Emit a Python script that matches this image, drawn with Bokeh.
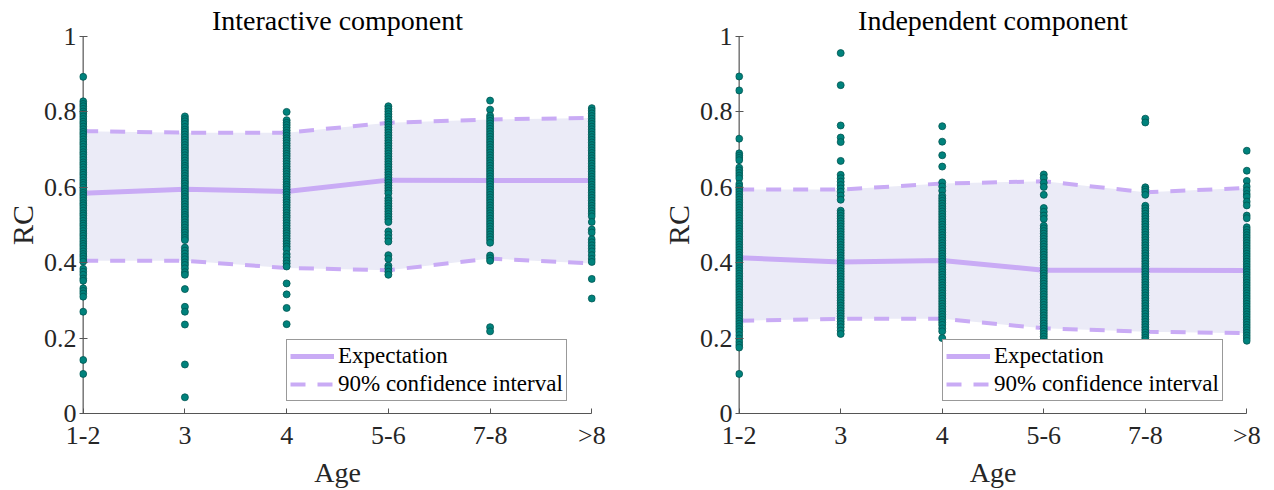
from bokeh.plotting import figure
from bokeh.layouts import row
from bokeh.models import Range1d, FixedTicker, Legend, LegendItem, Span
from bokeh.embed import file_html
from bokeh.resources import INLINE

ages = ["1-2", "3", "4", "5-6", "7-8", ">8"]
y_ticks = [0, 0.2, 0.4, 0.6, 0.8, 1.0]
y_tick_labels = ["0", "0.2", "0.4", "0.6", "0.8", "1"]

# ---- Interactive component ----
int_expect = [0.584, 0.595, 0.589, 0.619, 0.618, 0.618]
int_upper = [0.749, 0.745, 0.745, 0.771, 0.780, 0.784]
int_lower = [0.405, 0.405, 0.386, 0.380, 0.411, 0.398]

int_pts_12 = [0.893, 0.828, 0.821, 0.815, 0.808, 0.801, 0.795, 0.788, 0.781, 0.774, 0.768, 0.761, 0.754,
              0.747, 0.741, 0.734, 0.727, 0.720, 0.714, 0.707, 0.700, 0.693, 0.687, 0.680, 0.673, 0.666,
              0.660, 0.653, 0.646, 0.639, 0.633, 0.626, 0.619, 0.612, 0.606, 0.599, 0.592, 0.585, 0.579,
              0.572, 0.565, 0.558, 0.552, 0.545, 0.538, 0.531, 0.525, 0.518, 0.511, 0.504, 0.498, 0.491,
              0.484, 0.477, 0.471, 0.464, 0.457, 0.450, 0.444, 0.437, 0.430, 0.423, 0.417, 0.410, 0.403,
              0.384, 0.376, 0.368, 0.358, 0.352, 0.332, 0.325, 0.318, 0.310, 0.270, 0.142, 0.105]
int_pts_3 = [0.788, 0.781, 0.775, 0.768, 0.760, 0.753, 0.747, 0.740, 0.733, 0.726, 0.719, 0.712, 0.705,
             0.698, 0.692, 0.685, 0.678, 0.671, 0.664, 0.657, 0.651, 0.644, 0.637, 0.630, 0.623, 0.616,
             0.610, 0.603, 0.596, 0.589, 0.582, 0.575, 0.569, 0.562, 0.555, 0.548, 0.541, 0.534, 0.527,
             0.521, 0.514, 0.507, 0.500, 0.493, 0.486, 0.480, 0.473, 0.466, 0.460, 0.440, 0.432, 0.424,
             0.416, 0.409, 0.401, 0.394, 0.385, 0.375, 0.368, 0.330, 0.283, 0.270, 0.236, 0.130, 0.043]
int_pts_4 = [0.800, 0.778, 0.771, 0.765, 0.758, 0.751, 0.744, 0.737, 0.730, 0.724, 0.717, 0.710, 0.703,
             0.696, 0.689, 0.683, 0.676, 0.669, 0.662, 0.655, 0.648, 0.642, 0.635, 0.628, 0.621, 0.614,
             0.607, 0.601, 0.594, 0.587, 0.580, 0.573, 0.566, 0.560, 0.553, 0.546, 0.539, 0.532, 0.525,
             0.519, 0.512, 0.505, 0.498, 0.491, 0.484, 0.478, 0.471, 0.464, 0.457, 0.450, 0.443, 0.436,
             0.423, 0.415, 0.405, 0.398, 0.390, 0.345, 0.316, 0.280, 0.237]
int_pts_56 = [0.815, 0.808, 0.801, 0.794, 0.787, 0.780, 0.773, 0.766, 0.759, 0.752, 0.745, 0.738, 0.731,
              0.724, 0.717, 0.710, 0.703, 0.696, 0.689, 0.682, 0.675, 0.668, 0.661, 0.654, 0.647, 0.640,
              0.633, 0.626, 0.619, 0.612, 0.605, 0.598, 0.591, 0.584, 0.571, 0.564, 0.557, 0.550, 0.543,
              0.536, 0.529, 0.522, 0.515, 0.508, 0.483, 0.474, 0.465, 0.456, 0.420, 0.410, 0.392, 0.385,
              0.376, 0.368]
int_pts_78 = [0.830, 0.806, 0.790, 0.783, 0.776, 0.769, 0.762, 0.755, 0.748, 0.741, 0.734, 0.727, 0.720,
              0.713, 0.706, 0.699, 0.692, 0.685, 0.678, 0.671, 0.664, 0.657, 0.650, 0.643, 0.636, 0.629,
              0.622, 0.615, 0.608, 0.601, 0.594, 0.587, 0.580, 0.573, 0.566, 0.559, 0.552, 0.545, 0.538,
              0.531, 0.524, 0.517, 0.510, 0.503, 0.496, 0.489, 0.482, 0.475, 0.468, 0.461, 0.453, 0.419,
              0.412, 0.405, 0.229, 0.218]
int_pts_8p = [0.810, 0.803, 0.796, 0.789, 0.782, 0.775, 0.768, 0.761, 0.754, 0.747, 0.740, 0.733, 0.726,
              0.719, 0.712, 0.705, 0.698, 0.691, 0.684, 0.677, 0.670, 0.663, 0.656, 0.649, 0.642, 0.635,
              0.628, 0.621, 0.614, 0.607, 0.600, 0.593, 0.586, 0.579, 0.572, 0.565, 0.558, 0.551, 0.544,
              0.537, 0.530, 0.523, 0.508, 0.488, 0.480, 0.462, 0.454, 0.446, 0.438, 0.430, 0.420, 0.410,
              0.402, 0.357, 0.305]

# ---- Independent component ----
ind_expect = [0.413, 0.402, 0.406, 0.380, 0.380, 0.379]
ind_upper = [0.594, 0.594, 0.610, 0.616, 0.587, 0.598]
ind_lower = [0.246, 0.251, 0.251, 0.226, 0.217, 0.213]

ind_pts_12 = [0.894, 0.857, 0.729, 0.690, 0.684, 0.678, 0.672, 0.652, 0.645, 0.638, 0.631, 0.624, 0.609,
              0.602, 0.595, 0.588, 0.581, 0.574, 0.567, 0.560, 0.553, 0.546, 0.539, 0.532, 0.525, 0.518,
              0.511, 0.504, 0.497, 0.490, 0.483, 0.476, 0.469, 0.462, 0.455, 0.448, 0.441, 0.434, 0.427,
              0.420, 0.413, 0.406, 0.399, 0.392, 0.385, 0.378, 0.371, 0.364, 0.357, 0.350, 0.343, 0.336,
              0.329, 0.322, 0.315, 0.308, 0.301, 0.294, 0.287, 0.280, 0.273, 0.266, 0.259, 0.252, 0.245,
              0.238, 0.231, 0.224, 0.217, 0.208, 0.199, 0.190, 0.182, 0.175, 0.105]
ind_pts_3 = [0.956, 0.871, 0.764, 0.732, 0.720, 0.670, 0.633, 0.624, 0.615, 0.606, 0.597, 0.588, 0.578,
             0.567, 0.538, 0.531, 0.524, 0.517, 0.510, 0.503, 0.496, 0.489, 0.482, 0.475, 0.468, 0.461,
             0.454, 0.447, 0.440, 0.433, 0.426, 0.419, 0.412, 0.405, 0.398, 0.391, 0.384, 0.377, 0.370,
             0.363, 0.356, 0.349, 0.342, 0.335, 0.328, 0.321, 0.314, 0.307, 0.300, 0.293, 0.286, 0.279,
             0.272, 0.265, 0.258, 0.251, 0.244, 0.237, 0.229, 0.220, 0.211]
ind_pts_4 = [0.762, 0.721, 0.685, 0.655, 0.613, 0.602, 0.591, 0.578, 0.571, 0.564, 0.557, 0.550, 0.543,
             0.536, 0.529, 0.522, 0.515, 0.508, 0.501, 0.494, 0.487, 0.480, 0.473, 0.466, 0.459, 0.452,
             0.445, 0.438, 0.431, 0.424, 0.417, 0.410, 0.403, 0.396, 0.389, 0.382, 0.375, 0.368, 0.361,
             0.354, 0.347, 0.340, 0.333, 0.326, 0.319, 0.312, 0.305, 0.298, 0.291, 0.284, 0.277, 0.270,
             0.263, 0.256, 0.249, 0.242, 0.235, 0.226, 0.218, 0.200]
ind_pts_56 = [0.634, 0.625, 0.612, 0.601, 0.580, 0.545, 0.535, 0.525, 0.516, 0.498, 0.491, 0.484, 0.477,
              0.470, 0.463, 0.456, 0.449, 0.442, 0.435, 0.428, 0.421, 0.414, 0.407, 0.400, 0.393, 0.386,
              0.379, 0.372, 0.365, 0.358, 0.351, 0.344, 0.337, 0.330, 0.323, 0.316, 0.309, 0.302, 0.295,
              0.288, 0.281, 0.274, 0.267, 0.260, 0.253, 0.246, 0.239, 0.232, 0.225, 0.218, 0.211, 0.204,
              0.197, 0.190]
ind_pts_78 = [0.782, 0.772, 0.600, 0.594, 0.588, 0.580, 0.551, 0.544, 0.537, 0.530, 0.523, 0.516, 0.509,
              0.502, 0.495, 0.488, 0.481, 0.474, 0.467, 0.460, 0.453, 0.446, 0.439, 0.432, 0.425, 0.418,
              0.411, 0.404, 0.397, 0.390, 0.383, 0.376, 0.369, 0.362, 0.355, 0.348, 0.341, 0.334, 0.327,
              0.320, 0.313, 0.306, 0.299, 0.292, 0.285, 0.278, 0.271, 0.264, 0.257, 0.250, 0.243, 0.236,
              0.229, 0.222, 0.215, 0.208, 0.201, 0.195]
ind_pts_8p = [0.697, 0.644, 0.617, 0.602, 0.592, 0.582, 0.575, 0.562, 0.552, 0.525, 0.518, 0.494, 0.487,
              0.480, 0.473, 0.466, 0.459, 0.452, 0.445, 0.438, 0.431, 0.424, 0.417, 0.410, 0.403, 0.396,
              0.389, 0.382, 0.375, 0.368, 0.361, 0.354, 0.347, 0.340, 0.333, 0.326, 0.319, 0.312, 0.305,
              0.298, 0.291, 0.284, 0.277, 0.270, 0.263, 0.256, 0.249, 0.242, 0.235, 0.228, 0.221, 0.214,
              0.207, 0.200, 0.193]

FONT = "Liberation Serif"
TXT = "#262626"
AX_C = "#555555"
LINE_C = "#c9abf5"
SHADE = "#ebebf7"
DOT_FILL = "#00827c"
DOT_EDGE = "#005552"
PAD = 0.036


def make_panel(title, expect, upper, lower, columns, border_left, border_right):
    xs = list(range(len(ages)))
    n = len(ages) - 1
    p = figure(width=637, height=490, output_backend="svg", toolbar_location=None,
               x_range=Range1d(-PAD, n + PAD), y_range=Range1d(0, 1),
               min_border_left=border_left, min_border_right=border_right,
               min_border_top=36, min_border_bottom=76)
    p.outline_line_color = None
    p.grid.visible = False
    p.background_fill_color = "white"
    p.border_fill_color = "white"

    p.title.text = title
    p.title.align = "center"
    p.title.text_font = FONT
    p.title.text_font_size = "28px"
    p.title.text_font_style = "normal"
    p.title.text_color = "black"
    p.title.standoff = 2

    # y-axis line drawn at the first category (x = 0)
    p.add_layout(Span(location=0, dimension="height", line_color=AX_C, line_width=1.2,
                      level="underlay"))

    p.varea(x=xs, y1=lower, y2=upper, fill_color=SHADE, fill_alpha=1.0)
    r_exp = p.line(xs, expect, line_color=LINE_C, line_width=5)
    r_up = p.line(xs, upper, line_color=LINE_C, line_width=4, line_dash="15 12")
    p.line(xs, lower, line_color=LINE_C, line_width=4, line_dash="15 12")

    for i, col in enumerate(columns):
        p.scatter([xs[i]] * len(col), col, size=7, fill_color=DOT_FILL,
                  line_color=DOT_EDGE, line_width=0.8)

    p.xaxis.ticker = FixedTicker(ticks=xs)
    p.xaxis.major_label_overrides = {i: a for i, a in enumerate(ages)}
    p.xaxis.bounds = (0, n)
    p.yaxis.ticker = FixedTicker(ticks=y_ticks)
    p.yaxis.major_label_overrides = {t: l for t, l in zip(y_ticks, y_tick_labels)}
    p.xaxis.axis_label = "Age"
    p.yaxis.axis_label = "RC"
    for ax in (p.xaxis, p.yaxis):
        ax.major_tick_out = 0
        ax.minor_tick_in = 0
        ax.minor_tick_out = 0
        ax.axis_line_color = AX_C
        ax.major_tick_line_color = AX_C
        ax.major_label_text_font = FONT
        ax.major_label_text_font_size = "26px"
        ax.major_label_text_color = TXT
        ax.axis_label_text_font = FONT
        ax.axis_label_text_font_style = "normal"
        ax.axis_label_text_color = TXT
    p.xaxis.major_tick_in = 5
    p.yaxis.major_tick_in = 8
    p.yaxis.axis_line_color = None
    p.xaxis.axis_label_text_font_size = "28px"
    p.yaxis.axis_label_text_font_size = "30px"
    p.xaxis.major_label_standoff = 7
    p.yaxis.major_label_standoff = 3
    p.xaxis.axis_label_standoff = 4
    p.yaxis.axis_label_standoff = 2

    legend = Legend(items=[LegendItem(label="Expectation", renderers=[r_exp]),
                           LegendItem(label="90% confidence interval", renderers=[r_up])],
                    location=(207, 12))
    legend.label_text_font = FONT
    legend.label_text_font_size = "23px"
    legend.label_text_color = "black"
    legend.glyph_width = 44
    legend.glyph_height = 26
    legend.label_height = 26
    legend.spacing = 2
    legend.padding = 3
    legend.margin = 0
    legend.label_standoff = 4
    legend.border_line_color = "#333333"
    legend.border_line_width = 1
    legend.background_fill_alpha = 1.0
    p.add_layout(legend, "center")
    return p


p1 = make_panel("Interactive component", int_expect, int_upper, int_lower,
                [int_pts_12, int_pts_3, int_pts_4, int_pts_56, int_pts_78, int_pts_8p], 79, 42)
p2 = make_panel("Independent component", ind_expect, ind_upper, ind_lower,
                [ind_pts_12, ind_pts_3, ind_pts_4, ind_pts_56, ind_pts_78, ind_pts_8p], 98, 24)

layout = row(p1, p2)
open("out.html", "w").write(file_html(layout, INLINE))
